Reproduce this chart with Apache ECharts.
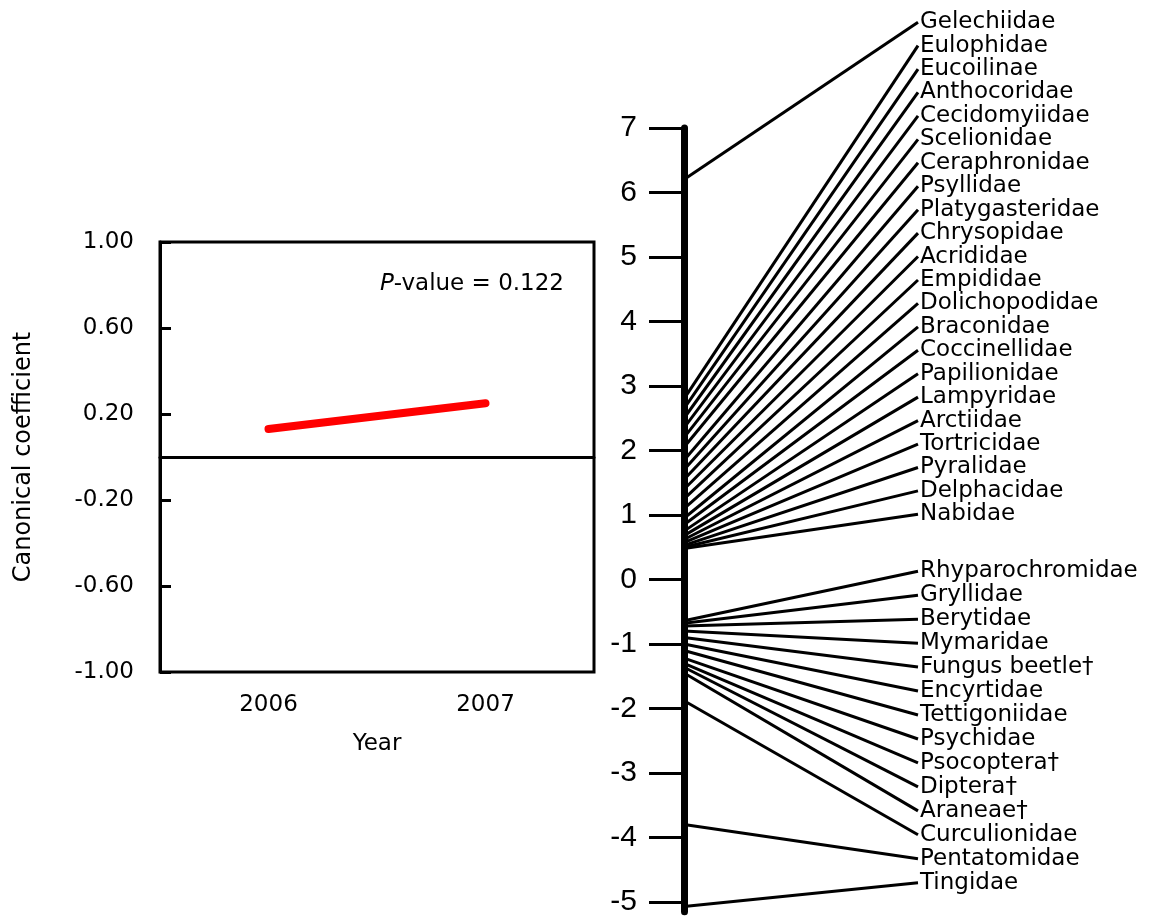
<!DOCTYPE html>
<html>
<head>
<meta charset="utf-8">
<title>Canonical coefficient</title>
<script src="https://cdn.jsdelivr.net/npm/echarts@6/dist/echarts.min.js"></script>
<style>
    html, body { margin: 0; padding: 0; background: #fff; }
    #chart { width: 1151px; height: 917px; }
</style>
</head>
<body>
<div id="chart"></div>
<script>
/* 左图数据 */
var years = ['2006', '2007'];
var canonicalCoef = [0.13, 0.25];
var pValueText = '0.122';

/* 右图数据：物种权重 */
var speciesNames = [
    'Gelechiidae', 'Eulophidae', 'Eucoilinae', 'Anthocoridae', 'Cecidomyiidae', 'Scelionidae',
    'Ceraphronidae', 'Psyllidae', 'Platygasteridae', 'Chrysopidae', 'Acrididae', 'Empididae',
    'Dolichopodidae', 'Braconidae', 'Coccinellidae', 'Papilionidae', 'Lampyridae', 'Arctiidae',
    'Tortricidae', 'Pyralidae', 'Delphacidae', 'Nabidae',
    'Rhyparochromidae', 'Gryllidae', 'Berytidae', 'Mymaridae', 'Fungus beetle†', 'Encyrtidae',
    'Tettigoniidae', 'Psychidae', 'Psocoptera†', 'Diptera†', 'Araneae†', 'Curculionidae',
    'Pentatomidae', 'Tingidae'
];
var speciesWeights = [
    6.2, 2.8, 2.65, 2.5, 2.35, 2.2,
    2.05, 1.85, 1.7, 1.55, 1.4, 1.25,
    1.1, 0.95, 0.85, 0.75, 0.68, 0.62,
    0.57, 0.53, 0.5, 0.48,
    -0.64, -0.68, -0.72, -0.8, -0.9, -1.0,
    -1.1, -1.22, -1.3, -1.36, -1.45, -1.88,
    -3.8, -5.07
];
var weightTicks = [-5, -4, -3, -2, -1, 0, 1, 2, 3, 4, 5, 6, 7];

// 右图坐标轴布局
var W_MIN = -5.15, W_MAX = 7;
var W_TOP = 128, W_BOTTOM = 913;
var pxPerUnit = (W_BOTTOM - W_TOP) / (W_MAX - W_MIN);

// 标签槽位（像素），正负两组分别均匀排列
function labelSlots() {
    var pos = [], neg = [];
    speciesWeights.forEach(function (w, i) { (w > 0 ? pos : neg).push(i); });
    var slots = [];
    pos.forEach(function (idx, k) {
        slots[idx] = 22 + k * (515 - 22) / (pos.length - 1);
    });
    neg.forEach(function (idx, k) {
        slots[idx] = 572 + k * (884 - 572) / (neg.length - 1);
    });
    // 转成权重轴上的值
    return slots.map(function (py) { return W_MAX - (py - W_TOP) / pxPerUnit; });
}

var ChartOper = function () {

    var getOption = function () {
        var slots = labelSlots();

        var series = [{
            type: 'line',
            xAxisIndex: 0,
            yAxisIndex: 0,
            data: canonicalCoef,
            symbol: 'none',
            lineStyle: { color: '#ff0000', width: 8, cap: 'round' },
            silent: true,
            markLine: {
                silent: true,
                symbol: 'none',
                label: { show: false },
                lineStyle: { color: '#000', width: 2, type: 'solid' },
                data: [{ yAxis: 0 }]
            }
        }];

        // 每个物种一条连线
        speciesWeights.forEach(function (w, i) {
            series.push({
                type: 'line',
                xAxisIndex: 1,
                yAxisIndex: 1,
                clip: false,
                silent: true,
                symbol: 'none',
                lineStyle: { color: '#000', width: 3 },
                data: [[0, w], [1, slots[i]]]
            });
        });

        series.push({
            type: 'scatter',
            xAxisIndex: 1,
            yAxisIndex: 1,
            clip: false,
            silent: true,
            symbolSize: 0,
            itemStyle: { opacity: 1, color: '#000' },
            data: speciesNames.map(function (name, i) {
                return { name: name, value: [1, slots[i]] };
            }),
            label: {
                show: true,
                position: 'right',
                distance: 2,
                formatter: '{b}',
                color: '#000',
                opacity: 1,
                fontSize: 23,
                fontFamily: 'DejaVu Sans'
            }
        });

        return {
            animation: false,
            backgroundColor: '#fff',
            textStyle: { fontFamily: 'DejaVu Sans', color: '#000' },
            title: {
                text: '{i|P}-value = ' + pValueText,
                right: 582,
                top: 268,
                textStyle: {
                    fontSize: 23,
                    fontWeight: 'normal',
                    color: '#000',
                    fontFamily: 'DejaVu Sans',
                    rich: {
                        i: { fontStyle: 'italic', fontSize: 23, fontFamily: 'DejaVu Sans', color: '#000' }
                    }
                }
            },
            grid: [
                {
                    left: 160, right: 557, top: 242, bottom: 245,
                    show: true, borderColor: '#000', borderWidth: 3,
                    backgroundColor: 'transparent'
                },
                { left: 684, right: 233, top: W_TOP, bottom: 917 - W_BOTTOM }
            ],
            xAxis: [
                {
                    gridIndex: 0,
                    type: 'category',
                    data: years,
                    boundaryGap: true,
                    name: 'Year',
                    nameLocation: 'middle',
                    nameGap: 61,
                    nameTextStyle: { fontSize: 23, color: '#000' },
                    axisLine: { lineStyle: { color: '#000', width: 3 } },
                    axisTick: { inside: true, alignWithLabel: true, length: 12, lineStyle: { width: 3, color: '#000' } },
                    axisLabel: { fontSize: 23, color: '#000', margin: 22 },
                    splitLine: { show: false }
                },
                { gridIndex: 1, type: 'value', min: 0, max: 1, show: false }
            ],
            yAxis: [
                {
                    gridIndex: 0,
                    type: 'value',
                    min: -1,
                    max: 1,
                    interval: 0.4,
                    name: 'Canonical coefficient',
                    nameLocation: 'middle',
                    nameGap: 124,
                    nameTextStyle: { fontSize: 24, color: '#000' },
                    axisLine: { show: true, lineStyle: { color: '#000', width: 3 } },
                    axisTick: { show: true, inside: true, length: 11, lineStyle: { width: 3, color: '#000' } },
                    axisLabel: {
                        fontSize: 23, color: '#000', margin: 26,
                        formatter: function (v) { return v.toFixed(2); }
                    },
                    splitLine: { show: false }
                },
                {
                    gridIndex: 1,
                    type: 'value',
                    min: W_MIN,
                    max: W_MAX,
                    axisLine: { show: true, onZero: false, lineStyle: { color: '#000', width: 7, cap: 'round' } },
                    axisTick: {
                        show: true, length: 35, customValues: weightTicks,
                        lineStyle: { width: 3, color: '#000' }
                    },
                    axisLabel: {
                        show: true, customValues: weightTicks, margin: 47,
                        fontSize: 30, color: '#000', fontFamily: 'Liberation Sans'
                    },
                    splitLine: { show: false }
                }
            ],
            series: series
        };
    };

    var loadChart = function (selector) {
        var myChart = echarts.init(document.querySelector(selector));
        myChart.setOption(getOption());
    };

    return {
        loadChart: function (selector) {
            loadChart(selector);
        }
    };
}();

ChartOper.loadChart('#chart');
</script>
</body>
</html>
